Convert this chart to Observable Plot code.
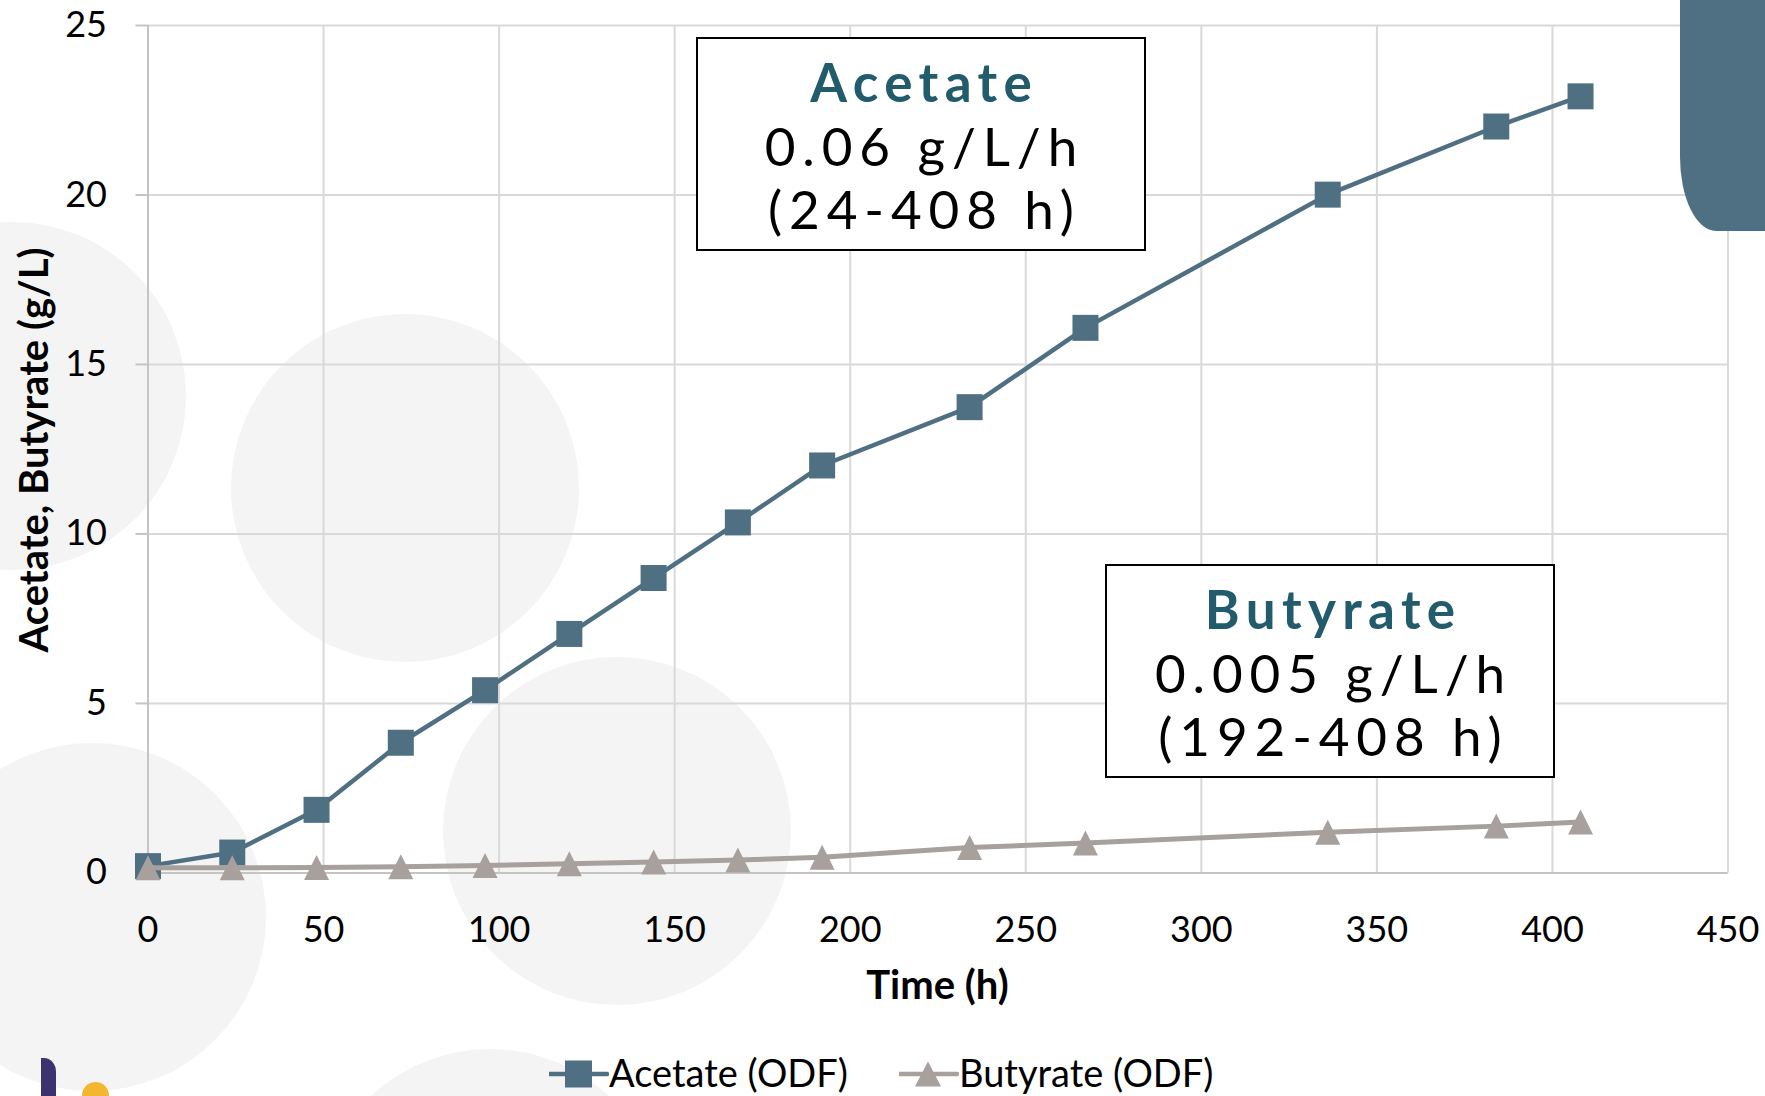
<!DOCTYPE html>
<html>
<head>
<meta charset="utf-8">
<script src="https://cdn.jsdelivr.net/npm/d3@7"></script>
<script src="https://cdn.jsdelivr.net/npm/@observablehq/plot@0.6"></script>
<style>
  html, body { margin: 0; padding: 0; background: #fff; }
  #stage { position: relative; width: 1765px; height: 1096px; overflow: hidden; background: #fff; font-family: Lato, "Open Sans", sans-serif; color: #000; }
  .bg { position: absolute; border-radius: 50%; background: #f4f4f4; z-index: 0; }
  #chart { position: absolute; left: 0; top: 0; z-index: 1; }
  .box { position: absolute; box-sizing: border-box; width: 450px; height: 214px; border: 2px solid #000; background: #fff; z-index: 2; text-align: center; padding-top: 11px; }
  .box div { line-height: 63.5px; font-size: 53px; white-space: nowrap; letter-spacing: 0.13em; padding-left: 0.13em; }
  .box .ttl { font-weight: 700; color: #225b6b; letter-spacing: 0.12em; padding-left: 0.12em; }
  .axt { position: absolute; font-weight: 700; font-size: 40px; line-height: 40px; white-space: nowrap; z-index: 2; }
  .leg { position: absolute; font-size: 38px; line-height: 1; white-space: nowrap; z-index: 2; }
  .legsym { position: absolute; z-index: 2; }
  #corner { position: absolute; left: 1680px; top: 0; width: 85px; height: 231px; background: #4f6f82; border-bottom-left-radius: 36px 74px; z-index: 3; }
  #bar { position: absolute; left: 41px; top: 1058px; width: 15px; height: 60px; background: #3d3270; border-top-right-radius: 12px 14px; z-index: 3; }
  #dot { position: absolute; left: 82px; top: 1082px; width: 27px; height: 27px; border-radius: 50%; background: #f5b62f; z-index: 3; }
</style>
</head>
<body>
<div id="stage">
  <div class="bg" style="left:-162px;top:222px;width:348px;height:348px"></div>
  <div class="bg" style="left:231px;top:314px;width:348px;height:348px"></div>
  <div class="bg" style="left:443px;top:657px;width:348px;height:348px"></div>
  <div class="bg" style="left:-82px;top:743px;width:348px;height:348px"></div>
  <div class="bg" style="left:316px;top:1049px;width:348px;height:348px"></div>
  <div id="chart"></div>
  <div class="box" style="left:696px;top:37px">
    <div class="ttl">Acetate</div>
    <div>0.06 g/L/h</div>
    <div>(24-408 h)</div>
  </div>
  <div class="box" style="left:1105px;top:564px">
    <div class="ttl">Butyrate</div>
    <div>0.005 g/L/h</div>
    <div>(192-408 h)</div>
  </div>
  <div class="axt" id="ytitle" style="left:32.5px;top:450px;transform:translate(-50%,-50%) rotate(-90deg)">Acetate, Butyrate (g/L)</div>
  <div class="axt" id="xtitle" style="left:937.5px;top:964px;transform:translateX(-50%)">Time (h)</div>
  <div id="legend"></div>
  <div id="corner"></div>
  <div id="bar"></div>
  <div id="dot"></div>
</div>
<script>
// ---- data ----
const timeH    = [0, 24, 48, 72, 96, 120, 144, 168, 192, 234, 267, 336, 384, 408];
const acetate  = [0.2, 0.6, 1.86, 3.84, 5.39, 7.05, 8.7, 10.34, 12.02, 13.74, 16.08, 20.01, 22.02, 22.91];
const butyrate = [0.15, 0.15, 0.16, 0.18, 0.22, 0.27, 0.32, 0.38, 0.46, 0.75, 0.88, 1.2, 1.38, 1.5];
const xTicks = [0, 50, 100, 150, 200, 250, 300, 350, 400, 450];
const yTicks = [0, 5, 10, 15, 20, 25];
const seriesNames = ["Acetate (ODF)", "Butyrate (ODF)"];
const seriesColors = ["#4f6f82", "#a8a09d"];

const acRows = timeH.map((t, i) => ({t, v: acetate[i]}));
const buRows = timeH.map((t, i) => ({t, v: butyrate[i]}));

// isosceles triangle like the spreadsheet marker (width = height)
const tri = {
  draw(ctx, size) {
    const r = Math.sqrt(size / Math.PI);
    ctx.moveTo(0, -r); ctx.lineTo(r, r); ctx.lineTo(-r, r); ctx.closePath();
  }
};

const chart = Plot.plot({
  width: 1765,
  height: 1030,
  marginLeft: 147.5,
  marginRight: 37.5,
  marginTop: 25,
  marginBottom: 157.6,
  style: {background: "transparent", fontFamily: "Lato, 'Open Sans', sans-serif", overflow: "visible"},
  x: {domain: [0, 450]},
  y: {domain: [0, 25]},
  marks: [
    Plot.gridX(xTicks, {stroke: "#d9d9d9", strokeOpacity: 1, strokeWidth: 2}),
    Plot.gridY(yTicks, {stroke: "#d9d9d9", strokeOpacity: 1, strokeWidth: 2}),
    Plot.ruleX([0], {stroke: "#c4c4c4", strokeWidth: 2}),
    Plot.ruleY([0], {stroke: "#c4c4c4", strokeWidth: 2}),
    Plot.axisY(yTicks, {tickSize: 12, tickPadding: 29, stroke: "#c4c4c4", strokeWidth: 2, fill: "#000", fontSize: 36, label: null, tickFormat: d => String(d)}),
    Plot.axisX(xTicks, {tickSize: 0, tickPadding: 44, fill: "#000", fontSize: 36, label: null, tickFormat: d => String(d)}),
    Plot.line(acRows, {x: "t", y: "v", stroke: seriesColors[0], strokeWidth: 4.5}),
    Plot.dot(acRows, {x: "t", y: "v", symbol: "square", r: 14.67, fill: seriesColors[0], stroke: "none"}),
    Plot.line(buRows, {x: "t", y: "v", stroke: seriesColors[1], strokeWidth: 5}),
    Plot.dot(buRows, {x: "t", y: "v", symbol: tri, r: 12.5, fill: seriesColors[1], stroke: "none"})
  ]
});
document.getElementById("chart").appendChild(chart);

// ---- legend ----
const legend = document.getElementById("legend");
const legItems = [
  {sym: "square", lineX: 549, textX: 609},
  {sym: "triangle", lineX: 899, textX: 959}
];
const ns = "http://www.w3.org/2000/svg";
legItems.forEach((it, i) => {
  const svg = document.createElementNS(ns, "svg");
  svg.setAttribute("width", 60); svg.setAttribute("height", 34);
  svg.setAttribute("class", "legsym");
  svg.style.left = it.lineX + "px"; svg.style.top = (1074 - 17) + "px";
  const ln = document.createElementNS(ns, "line");
  ln.setAttribute("x1", 0); ln.setAttribute("x2", 58); ln.setAttribute("y1", 17); ln.setAttribute("y2", 17);
  ln.setAttribute("stroke", seriesColors[i]); ln.setAttribute("stroke-width", 4.5); ln.setAttribute("stroke-linecap", "round");
  svg.appendChild(ln);
  const p = document.createElementNS(ns, "path");
  if (it.sym === "square") p.setAttribute("d", "M16,3.5h27v27h-27z");
  else p.setAttribute("d", "M29,4.5L42,29.5L16,29.5Z");
  p.setAttribute("fill", seriesColors[i]);
  svg.appendChild(p);
  legend.appendChild(svg);
  const t = document.createElement("div");
  t.className = "leg";
  t.textContent = seriesNames[i];
  t.style.left = it.textX + "px";
  t.style.top = (1087 - 0.887 * 38) + "px";
  legend.appendChild(t);
});
</script>
</body>
</html>
